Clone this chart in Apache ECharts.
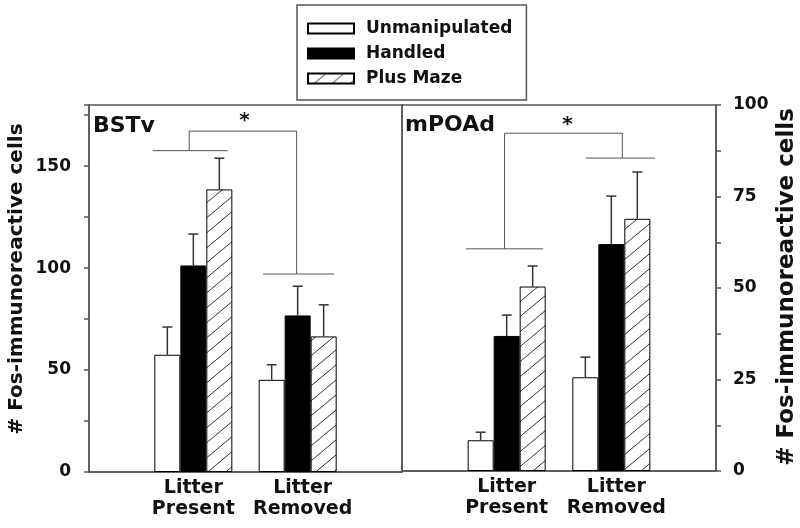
<!DOCTYPE html>
<html><head><meta charset="utf-8">
<script src="https://cdn.jsdelivr.net/npm/echarts@6/dist/echarts.min.js"></script>
<style>html,body{margin:0;padding:0;background:#fff}#c{width:800px;height:528px}</style>
</head><body><div id="c"></div>
<script>
// ---------- data ----------
const groups = ['', 'Litter\nPresent', 'Litter\nRemoved', ''];
const seriesNames = ['Unmanipulated', 'Handled', 'Plus Maze'];
// BSTv (left axis)
const bstUnmanip = [57.5, 45.2];
const bstUnmanipSem = [13.6, 7.4];
const bstHandled = [101.3, 76.8];
const bstHandledSem = [15.4, 14.3];
const bstMaze = [138.6, 66.5];
const bstMazeSem = [15.3, 15.5];
// mPOAd (right axis)
const mpoUnmanip = [8.4, 25.6];
const mpoUnmanipSem = [2.2, 5.5];
const mpoHandled = [36.9, 62.0];
const mpoHandledSem = [5.7, 13.1];
const mpoMaze = [50.4, 68.9];
const mpoMazeSem = [5.6, 12.8];
// tick labels
const leftTicks = [0, 50, 100, 150];
const rightTicks = [0, 25, 50, 75, 100];
// significance brackets: [xStart, xEnd, y, stemX] in category units / data units
const bstBrackets = [[0.61, 1.33, 157.6, 0.96], [1.67, 2.35, 97.1, 1.99]];
const bstBridgeY = 167.2;
const bstStar = [1.49, 173.6];
const mpoBrackets = [[0.61, 1.35, 60.7, 0.98], [1.755, 2.42, 85.5, 2.105]];
const mpoBridgeY = 92.3;
const mpoStar = [1.58, 95.4];

// ---------- styles ----------
const FONT = '"DejaVu Sans", sans-serif';
const AX = '#555';
const BAR_W = 26;

function hatch() {
  const w = 18, h = 15;
  const c = document.createElement('canvas');
  c.width = w; c.height = h;
  const g = c.getContext('2d');
  g.fillStyle = '#fff'; g.fillRect(0, 0, w, h);
  g.strokeStyle = '#333'; g.lineWidth = 1;
  g.beginPath();
  for (const o of [-w, 0, w]) { g.moveTo(o, h); g.lineTo(o + w, 0); }
  g.stroke();
  return c;
}
const hatchPattern = { image: hatch(), repeat: 'repeat' };

const styles = [
  { color: '#fff', borderColor: '#000', borderWidth: 1 },
  { color: '#000', borderColor: '#000', borderWidth: 1 },
  { color: hatchPattern, borderColor: '#000', borderWidth: 1 }
];

function barSeries(idx, name, vals) {
  return {
    type: 'bar', name: name, xAxisIndex: idx, yAxisIndex: idx,
    data: ['-'].concat(vals, ['-']), barWidth: BAR_W, barGap: '0%',
    itemStyle: styles[seriesNames.indexOf(name)], silent: true
  };
}

function errSeries(idx, means, sems, offset) {
  return {
    type: 'custom', xAxisIndex: idx, yAxisIndex: idx, silent: true, z: 3,
    data: means.map((m, i) => [i + 1, m, m + sems[i]]),
    encode: { x: 0, y: [1, 2] },
    renderItem: (p, api) => {
      const b = api.coord([api.value(0), api.value(1)]);
      const t = api.coord([api.value(0), api.value(2)]);
      const x = b[0] + offset * BAR_W;
      const st = { stroke: '#333', lineWidth: 1.5 };
      return { type: 'group', children: [
        { type: 'line', shape: { x1: x, y1: b[1], x2: x, y2: t[1] }, style: st },
        { type: 'line', shape: { x1: x - 5, y1: t[1], x2: x + 5, y2: t[1] }, style: st }
      ] };
    }
  };
}

function bracketSeries(idx, brackets, bridgeY, star) {
  return {
    type: 'custom', xAxisIndex: idx, yAxisIndex: idx, silent: true, z: 4,
    data: [[0, 0]],
    renderItem: (p, api) => {
      const x0 = api.coord([0, 0])[0], x1 = api.coord([1, 0])[0];
      const u = x1 - x0;
      const px = v => x0 + v * u;
      const py = v => api.coord([0, v])[1];
      const ls = { stroke: '#555', lineWidth: 1 };
      const ch = [];
      brackets.forEach(b => {
        ch.push({ type: 'line', shape: { x1: px(b[0]), y1: py(b[2]), x2: px(b[1]), y2: py(b[2]) }, style: ls });
        ch.push({ type: 'line', shape: { x1: px(b[3]), y1: py(b[2]), x2: px(b[3]), y2: py(bridgeY) }, style: ls });
      });
      ch.push({ type: 'line', shape: { x1: px(brackets[0][3]), y1: py(bridgeY), x2: px(brackets[1][3]), y2: py(bridgeY) }, style: ls });
      ch.push({ type: 'text', x: px(star[0]), y: py(star[1]) + 3,
        style: { text: '*', fontSize: 20, fontWeight: 'bold', fontFamily: FONT, fill: '#111', align: 'center', verticalAlign: 'middle' } });
      return { type: 'group', children: ch };
    }
  };
}

function xAxis(idx) {
  return {
    gridIndex: idx, type: 'category', boundaryGap: false,
    data: groups.map(g => g.indexOf('Removed') >= 0 ? { value: g, textStyle: { padding: [0, 0, 0, 10] } } : g),
    axisLine: { show: true, lineStyle: { color: AX, width: 1.5 } },
    axisTick: { show: false },
    axisLabel: { interval: 0, margin: 6, fontSize: 19, fontWeight: 'bold', fontFamily: FONT, color: '#111', lineHeight: 21 },
    splitLine: { show: false }
  };
}

function yAxis(idx, max, interval, ticks, pos, margin) {
  return {
    gridIndex: idx, type: 'value', min: 0, max: max, interval: interval, position: pos,
    axisLine: { show: true, lineStyle: { color: AX, width: 1.5 } },
    axisTick: { show: true, inside: false, length: 5, lineStyle: { color: AX, width: 1.5 } },
    axisLabel: { margin: margin, fontSize: 17, fontWeight: 'bold', fontFamily: FONT, color: '#111',
      formatter: v => ticks.indexOf(v) >= 0 ? String(v) : '' },
    splitLine: { show: false }
  };
}

const chart = echarts.init(document.getElementById('c'), null, { renderer: 'canvas' });
chart.setOption({
  animation: false,
  backgroundColor: '#fff',
  grid: [
    { left: 89, top: 105, width: 313, height: 367, show: true, borderColor: AX, borderWidth: 1.5, backgroundColor: 'transparent' },
    { left: 402, top: 105, width: 314, height: 366, show: true, borderColor: AX, borderWidth: 1.5, backgroundColor: 'transparent' }
  ],
  legend: {
    orient: 'vertical', left: 297, top: 5, padding: [15, 14, 13, 10],
    itemWidth: 46, itemHeight: 10, itemGap: 8, icon: 'rect', selectedMode: false,
    borderColor: AX, borderWidth: 1.5,
    textStyle: { fontSize: 17, fontWeight: 'bold', fontFamily: FONT, color: '#111', lineHeight: 17, padding: [0, 0, 0, 7] },
    data: seriesNames
  },
  xAxis: [xAxis(0), xAxis(1)],
  yAxis: [yAxis(0, 180, 25, leftTicks, 'left', 18), yAxis(1, 100, 12.5, rightTicks, 'right', 17)],
  graphic: [
    { type: 'text', x: 93, y: 126, style: { text: 'BSTv', fontSize: 22, fontWeight: 'bold', fontFamily: FONT, fill: '#111', verticalAlign: 'middle' } },
    { type: 'text', x: 405, y: 125, style: { text: 'mPOAd', fontSize: 22, fontWeight: 'bold', fontFamily: FONT, fill: '#111', verticalAlign: 'middle' } },
    { type: 'text', x: 17, y: 279, rotation: Math.PI / 2, style: { text: '# Fos-immunoreactive cells', fontSize: 20, fontWeight: 'bold', fontFamily: FONT, fill: '#111', align: 'center', verticalAlign: 'middle' } },
    { type: 'text', x: 787, y: 287, rotation: Math.PI / 2, style: { text: '# Fos-immunoreactive cells', fontSize: 23, fontWeight: 'bold', fontFamily: FONT, fill: '#111', align: 'center', verticalAlign: 'middle' } }
  ],
  series: [
    barSeries(0, 'Unmanipulated', bstUnmanip),
    barSeries(0, 'Handled', bstHandled),
    barSeries(0, 'Plus Maze', bstMaze),
    barSeries(1, 'Unmanipulated', mpoUnmanip),
    barSeries(1, 'Handled', mpoHandled),
    barSeries(1, 'Plus Maze', mpoMaze),
    errSeries(0, bstUnmanip, bstUnmanipSem, -1),
    errSeries(0, bstHandled, bstHandledSem, 0),
    errSeries(0, bstMaze, bstMazeSem, 1),
    errSeries(1, mpoUnmanip, mpoUnmanipSem, -1),
    errSeries(1, mpoHandled, mpoHandledSem, 0),
    errSeries(1, mpoMaze, mpoMazeSem, 1),
    bracketSeries(0, bstBrackets, bstBridgeY, bstStar),
    bracketSeries(1, mpoBrackets, mpoBridgeY, mpoStar)
  ]
});
</script></body></html>
